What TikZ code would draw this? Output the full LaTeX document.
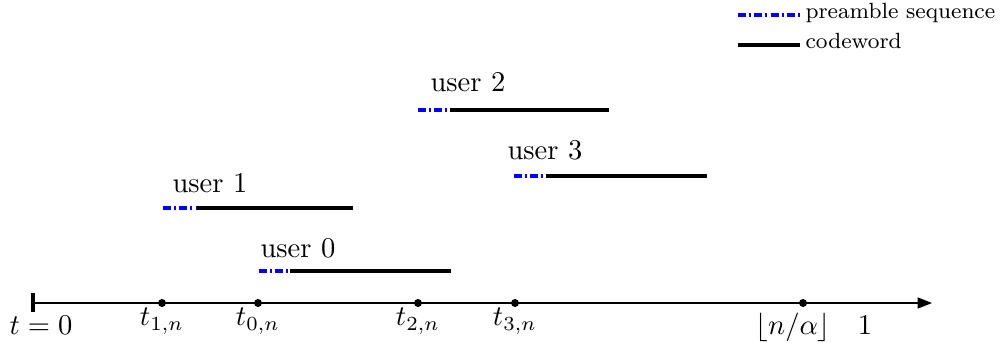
\documentclass[tikz,border=0pt]{standalone}
\usetikzlibrary{arrows.meta}
\begin{document}
\begin{tikzpicture}[x=0.35pt,y=-0.35pt,
  pre/.style={blue,line width=1.4pt,dash pattern=on 2.8pt off 1.1pt on 0.7pt off 1.1pt},
  cw/.style={black,line width=1.4pt},
  axis/.style={line width=0.6pt,-{Triangle[length=5pt,width=3.8pt]}},
  dot/.style={circle,fill=black,inner sep=0pt,minimum size=2.8pt},
  lab/.style={anchor=base,inner sep=0pt},
  ulab/.style={anchor=base west,inner sep=0pt},
  leg/.style={anchor=base west,inner sep=0pt,font=\fontsize{7.7pt}{9pt}\selectfont}]
\useasboundingbox (0,0) rectangle (1003,343);
% axis
\coordinate (a0) at (33,303);
\coordinate (aend) at (932,303);
\draw[axis] (a0) -- (aend);
\draw[line width=1.2pt] (33,293) -- (33,312);
\node[dot] (d1) at (162,303) {};
\node[dot] (d0) at (258,303) {};
\node[dot] (d2) at (418,303) {};
\node[dot] (d3) at (515,303) {};
\node[dot] (df) at (803,303) {};
\node[lab] (l00) at (41,335) {$t=0$};
\node[lab] (l1) at (162,326) {$t_{1,n}$};
\node[lab] (l0) at (258,326) {$t_{0,n}$};
\node[lab] (l2) at (418,326) {$t_{2,n}$};
\node[lab] (l3) at (515,326) {$t_{3,n}$};
\node[lab] (lf) at (793,335) {$\lfloor n/\alpha\rfloor$};
\node[lab] (lone) at (865,335) {$1$};
% user 1
\coordinate (u1a) at (163,208); \coordinate (u1b) at (197,208); \coordinate (u1c) at (353,208);
\draw[pre] (u1a) -- (u1b); \draw[cw] (u1b) -- (u1c);
\node[ulab] (u1) at (172,193) {user 1};
% user 0
\coordinate (u0a) at (259,271); \coordinate (u0b) at (290,271); \coordinate (u0c) at (451,271);
\draw[pre] (u0a) -- (u0b); \draw[cw] (u0b) -- (u0c);
\node[ulab] (u0) at (260,258) {user 0};
% user 2
\coordinate (u2a) at (418,110); \coordinate (u2b) at (450,110); \coordinate (u2c) at (609,110);
\draw[pre] (u2a) -- (u2b); \draw[cw] (u2b) -- (u2c);
\node[ulab] (u2) at (430,92) {user 2};
% user 3
\coordinate (u3a) at (514,176); \coordinate (u3b) at (546,176); \coordinate (u3c) at (707,176);
\draw[pre] (u3a) -- (u3b); \draw[cw] (u3b) -- (u3c);
\node[ulab] (u3) at (507,160) {user 3};
% legend
\coordinate (la) at (738,15); \coordinate (lb) at (800,15);
\draw[pre] (la) -- (lb);
\node[leg] (lt1) at (805,19) {preamble sequence};
\coordinate (lc) at (738,45); \coordinate (ld) at (800,45);
\draw[cw] (lc) -- (ld);
\node[leg] (lt2) at (805,49) {codeword};
\end{tikzpicture}
\end{document}
